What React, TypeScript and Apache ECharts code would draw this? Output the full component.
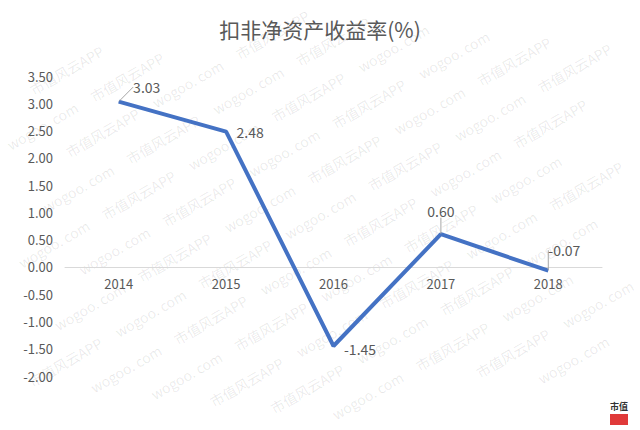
import { useEffect, useRef } from "react";
import * as echarts from "echarts";

const years = ["2014", "2015", "2016", "2017", "2018"];
const roe = [3.03, 2.48, -1.45, 0.6, -0.07];
const labelPos = ["top", "right", "right", "top", "top"];
const labelGap = [5, 10, 10, 5, 5];
const labelShift = [
  [28, -2],
  [0, 0],
  [0, 3],
  [0, -11],
  [16, -8],
];
const showLeader = [true, false, false, true, true];

const FONT = "'Noto Sans CJK SC', 'Noto Sans', sans-serif";

function watermark() {
  const items: any[] = [];
  const a = Math.PI / 6;
  for (let r = -9; r <= 9; r++) {
    for (let c = -7; c <= 7; c++) {
      const x = c * 98 + (r % 2 ? 49 : 0);
      const y = r * 36;
      const gx = 320 + x * Math.cos(a) + y * Math.sin(a);
      const gy = 215 - x * Math.sin(a) + y * Math.cos(a);
      if (gx < 40 || gx > 600 || gy < 28 || gy > 402) continue;
      const even = (((r + c) % 2) + 2) % 2 === 0;
      items.push({
        type: "text",
        x,
        y,
        style: {
          text: even ? "wogoo. com" : "市值风云APP",
          fill: "rgba(0,0,0,0.09)",
          font: `14px ${FONT}`,
          align: "center",
          verticalAlign: "middle",
        },
      });
    }
  }
  return {
    type: "group",
    x: 320,
    y: 215,
    rotation: a,
    silent: true,
    z: 100,
    children: items,
  };
}

export default function App() {
  const divRef = useRef<HTMLDivElement>(null);

  useEffect(() => {
    document.body.style.margin = "0";
    if (!divRef.current) return;
    const chart = echarts.init(divRef.current, null, { renderer: "svg" });

    chart.setOption({
      animation: false,
      backgroundColor: "#ffffff",
      title: {
        text: "扣非净资产收益率(%)",
        left: "center",
        top: 13,
        textStyle: {
          fontFamily: FONT,
          fontSize: 21,
          fontWeight: "normal",
          color: "#595959",
        },
      },
      grid: { left: 65, right: 38, top: 76, bottom: 54 },
      xAxis: {
        type: "category",
        data: years,
        offset: -109,
        axisLine: { onZero: false, lineStyle: { color: "#d9d9d9", width: 1 } },
        axisTick: { show: false },
        axisLabel: {
          color: "#595959",
          fontSize: 13,
          fontFamily: FONT,
          margin: 10,
        },
      },
      yAxis: {
        type: "value",
        min: -2,
        max: 3.5,
        interval: 0.5,
        splitLine: { show: false },
        axisLine: { show: false },
        axisTick: { show: false },
        axisLabel: {
          color: "#595959",
          fontSize: 13,
          fontFamily: FONT,
          margin: 12,
          formatter: (v: number) => v.toFixed(2),
        },
      },
      series: [
        {
          type: "line",
          data: roe.map((v, i) => ({
            value: v,
            label: { position: labelPos[i], distance: labelGap[i] },
            labelLine: { show: showLeader[i] },
          })),
          symbol: "circle",
          symbolSize: 1,
          itemStyle: { color: "rgba(68,114,196,0)" },
          lineStyle: { color: "#4472c4", width: 4 },
          label: {
            show: true,
            color: "#595959",
            opacity: 1,
            fontSize: 14,
            fontFamily: FONT,
            formatter: (p: any) => p.value.toFixed(2),
          },
          labelLine: {
            show: true,
            lineStyle: { color: "#a6a6a6", width: 1 },
          },
          labelLayout: (p: any) => ({
            dx: labelShift[p.dataIndex][0],
            dy: labelShift[p.dataIndex][1],
          }),
        },
      ],
      graphic: [
        watermark(),
        {
          type: "text",
          left: 610,
          top: 402,
          style: {
            text: "市值",
            fill: "#333",
            font: `bold 9px ${FONT}`,
          },
        },
        {
          type: "rect",
          left: 610,
          top: 414,
          shape: { width: 18, height: 11 },
          style: { fill: "#e03a3a" },
        },
      ],
    });

    return () => {
      chart.dispose();
    };
  }, []);

  return <div ref={divRef} style={{ width: 640, height: 430 }} />;
}
